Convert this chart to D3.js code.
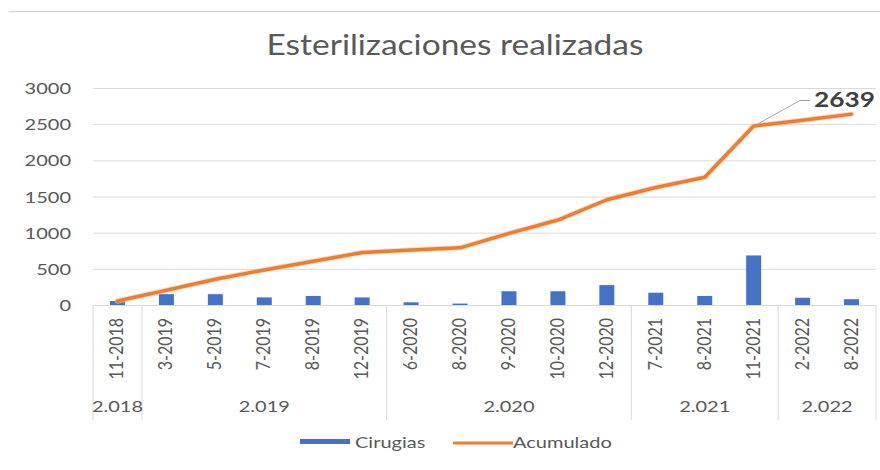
<!DOCTYPE html>
<html>
<head>
<meta charset="utf-8">
<script src="https://cdn.jsdelivr.net/npm/d3@7"></script>
<style>
  html, body { margin: 0; padding: 0; background: #fff; }
  svg { display: block; }
  text { font-family: Lato, "Open Sans", sans-serif; }
</style>
</head>
<body>
<svg id="chart" width="880" height="470"></svg>
<script>
// ---------- data ----------
const categories = ["11-2018","3-2019","5-2019","7-2019","8-2019","12-2019",
  "6-2020","8-2020","9-2020","10-2020","12-2020",
  "7-2021","8-2021","11-2021","2-2022","8-2022"];
const cirugias  = [55, 150, 150, 105, 125, 105, 37, 20, 190, 190, 275, 170, 125, 685, 100, 80];
const acumulado = [55, 205, 355, 485, 605, 725, 760, 790, 990, 1175, 1455, 1625, 1765, 2475, 2555, 2639];
const yearKeys   = ["2018","2019","2020","2021","2022"];
const yearLabels = ["2.018","2.019","2.020","2.021","2.022"];
const yTicks = [0, 500, 1000, 1500, 2000, 2500, 3000];
const titleText = "Esterilizaciones realizadas";
const seriesNames = ["Cirugias", "Acumulado"];
const lastLabel = "2639";

(function () {
// ---------- layout ----------
const SX = 1.25;           // horizontal text stretch seen in reference
const pLeft = 93, pRight = 876, pTop = 88, pBottom = 305;
const txtColor = "#595959", gridColor = "#d9d9d9";
const blue = "#4472c4", orange = "#ed7d31";

const svg = d3.select("#chart");

const x = d3.scaleBand().domain(categories).range([pLeft, pRight]).paddingInner(0).paddingOuter(0);
const y = d3.scaleLinear().domain([0, 3000]).range([pBottom, pTop]);
const cx = d => x(d) + x.bandwidth() / 2;

function stretchedText(parent, px, py, str) {
  const g = parent.append("g").attr("transform", `translate(${px},${py}) scale(${SX},1)`);
  return g.append("text").text(str);
}

// top border line
svg.append("line").attr("x1", 9).attr("x2", 880).attr("y1", 11.5).attr("y2", 11.5)
  .attr("stroke", "#d0d0d0").attr("stroke-width", 1);

// title (fit to reference width)
{
  const g = svg.append("g");
  const t = g.append("text").text(titleText).attr("font-size", 28)
    .attr("fill", txtColor).attr("text-anchor", "middle");
  const w = t.node().getComputedTextLength();
  const s = 377 / w;
  g.attr("transform", `translate(455,55) scale(${s},1)`);
}

// gridlines (axis)
const yAxis = d3.axisLeft(y).tickValues(yTicks).tickSize(-(pRight - pLeft)).tickFormat("");
const gy = svg.append("g").attr("transform", `translate(${pLeft},0)`).call(yAxis);
gy.select(".domain").remove();
gy.selectAll(".tick line").attr("stroke", gridColor).attr("stroke-width", 1);

// y tick labels
yTicks.forEach(v => {
  stretchedText(svg, 71, y(v) + 6, String(v))
    .attr("font-size", 16).attr("fill", txtColor).attr("text-anchor", "end");
});

// bars
const barW = 15;
svg.append("g").selectAll("rect").data(categories).join("rect")
  .attr("x", d => cx(d) - barW / 2)
  .attr("width", barW)
  .attr("y", (d, i) => y(cirugias[i]))
  .attr("height", (d, i) => y(0) - y(cirugias[i]))
  .attr("fill", blue);

// x axis line
svg.append("line").attr("x1", pLeft).attr("x2", pRight).attr("y1", pBottom + 0.5).attr("y2", pBottom + 0.5)
  .attr("stroke", gridColor);

// category labels (rotated)
categories.forEach(c => {
  svg.append("text").text(c)
    .attr("transform", `translate(${cx(c) + 6},318) scale(${SX},1) rotate(-90)`)
    .attr("text-anchor", "end").attr("font-size", 16).attr("fill", txtColor);
});

// year groups
const catYear = categories.map(c => c.split("-")[1]);
const groups = yearKeys.map((k, i) => {
  const cats = categories.filter((c, j) => catYear[j] === k);
  return { label: yearLabels[i], start: x(cats[0]), end: x(cats[cats.length - 1]) + x.bandwidth() };
});
const seps = [groups[0].start].concat(groups.map(g => g.end));
seps.forEach(sx => {
  svg.append("line").attr("x1", sx).attr("x2", sx).attr("y1", pBottom).attr("y2", 420)
    .attr("stroke", gridColor).attr("stroke-width", 1);
});
groups.forEach(g => {
  stretchedText(svg, (g.start + g.end) / 2, 411.5, g.label)
    .attr("font-size", 16).attr("fill", txtColor).attr("text-anchor", "middle");
});

// cumulative line
const line = d3.line().x((d, i) => cx(categories[i])).y(d => y(d));
svg.append("path").datum(acumulado).attr("d", line)
  .attr("fill", "none").attr("stroke", "#f6c7a6").attr("stroke-width", 5.5)
  .attr("stroke-linejoin", "round").attr("stroke-linecap", "round").attr("opacity", 0.6);
svg.append("path").datum(acumulado).attr("d", line)
  .attr("fill", "none").attr("stroke", orange).attr("stroke-width", 3.5)
  .attr("stroke-linejoin", "round").attr("stroke-linecap", "round");

// data label with leader line
const iLead = categories.length - 3;
svg.append("polyline")
  .attr("points", `${cx(categories[iLead]) + 4},${y(acumulado[iLead]) - 2} 800,100.5 810,100.5`)
  .attr("fill", "none").attr("stroke", "#a6a6a6").attr("stroke-width", 1);
stretchedText(svg, 814, 107, lastLabel)
  .attr("font-size", 21).attr("font-weight", "bold").attr("fill", "#404040");

// legend
svg.append("rect").attr("x", 300).attr("y", 439).attr("width", 50).attr("height", 5).attr("fill", blue);
stretchedText(svg, 355, 448, seriesNames[0]).attr("font-size", 16).attr("fill", txtColor);
svg.append("line").attr("x1", 453).attr("x2", 513).attr("y1", 443).attr("y2", 443)
  .attr("stroke", orange).attr("stroke-width", 3);
stretchedText(svg, 513, 448, seriesNames[1]).attr("font-size", 16).attr("fill", txtColor);
})();
</script>
</body>
</html>
